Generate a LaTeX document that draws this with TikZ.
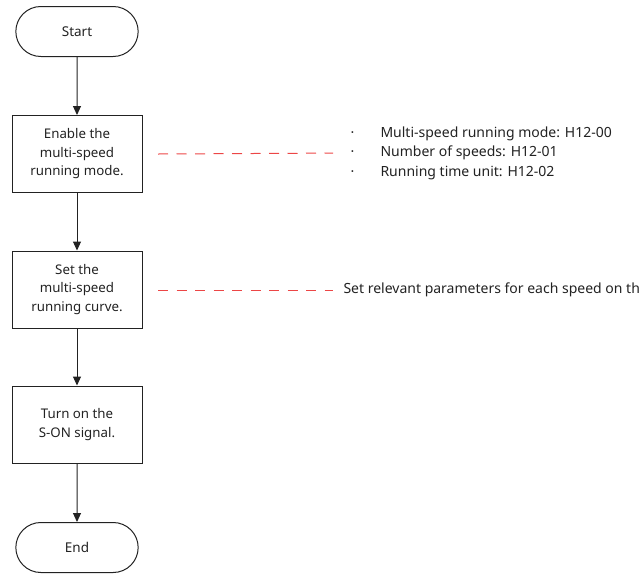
\documentclass[tikz,border=0pt]{standalone}
\usepackage{fontspec}
\setmainfont{Noto Sans}
\usetikzlibrary{positioning,arrows.meta,shapes.misc}
\definecolor{Ink}{RGB}{34,34,34}
\definecolor{Dash}{RGB}{236,70,70}

\begin{document}
\begin{tikzpicture}[x=1pt,y=-1pt,
  term/.style={draw=Ink,line width=1pt,rounded rectangle,minimum width=129pt,minimum height=50pt,font=\fontsize{13.5}{18}\selectfont,text=Ink},
  stepbox/.style={draw=Ink,line width=1pt,rectangle,minimum width=130pt,minimum height=77pt,align=center,font=\fontsize{13.3}{18.5}\selectfont,text=Ink},
  note/.style={anchor=west,align=left,font=\fontsize{14}{19.5}\selectfont,text=Ink},
  flow/.style={-{Triangle[length=9pt,width=8pt]},line width=1pt,Ink},
  hint/.style={Dash,line width=1pt,dash pattern=on 10pt off 8.5pt}]
\useasboundingbox (0,0) rectangle (640,574);
\node[term] (start) at (77,31.5) {Start};
\node[stepbox] (mode) at (77,154) {Enable the\\multi-speed\\running mode.};
\node[stepbox] (curve) at (77,289.5) {Set the\\multi-speed\\running curve.};
\node[stepbox] (son) at (77,424.5) {Turn on the\\S-ON signal.};
\node[term] (stop) at (77,547.5) {End};
\foreach \a/\b in {start/mode,mode/curve,curve/son,son/stop}
  \draw[flow] (\a) -- (\b);
% notes
\node[note] (modetxt) at (347,153) {\makebox[30pt][l]{·}Multi-speed running mode: H12-00\\\makebox[30pt][l]{·}Number of speeds: H12-01\\\makebox[30pt][l]{·}Running time unit: H12-02};
\node[note] (curvetxt) at (340,290) {Set relevant parameters for each speed on the curve.};
\coordinate (m1) at (158,154);
\coordinate (c1) at (158,290);
\draw[hint,shorten >=14pt] (m1) -- (modetxt.west);
\draw[hint,shorten >=7pt] (c1) -- (curvetxt.west);
\end{tikzpicture}
\end{document}
